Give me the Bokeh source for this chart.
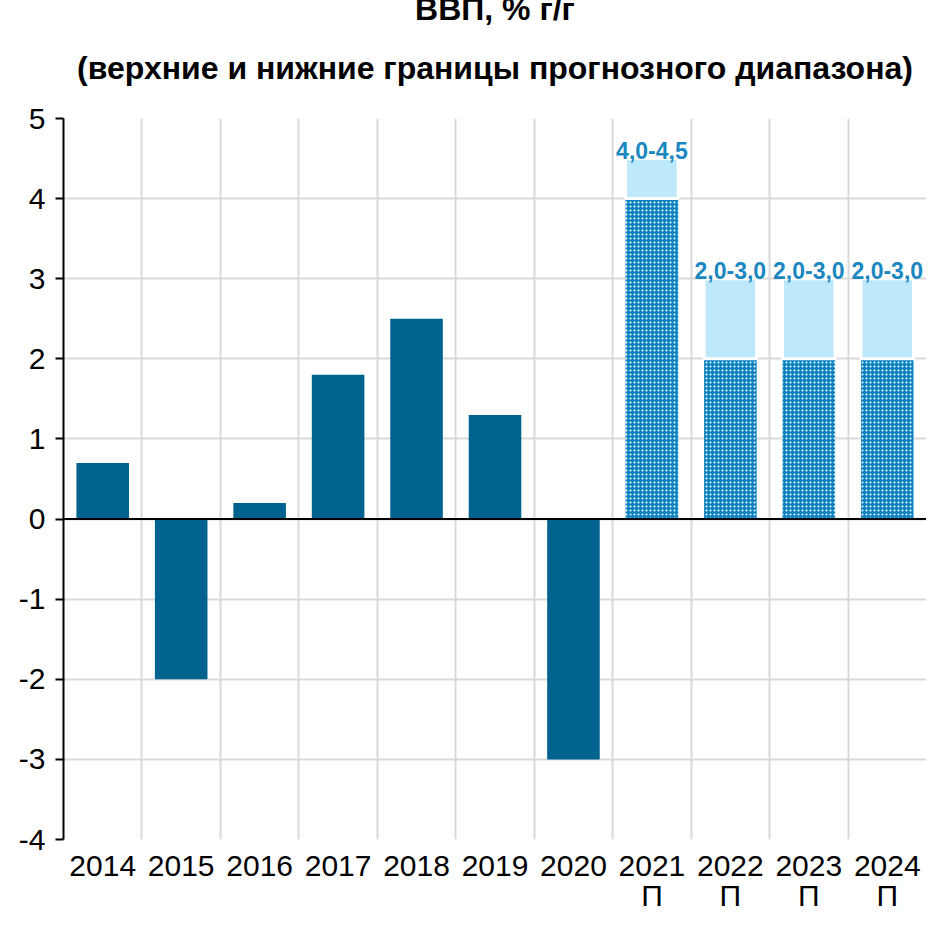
from bokeh.plotting import figure
from bokeh.models import FixedTicker, Span, ColumnDataSource, Title, LinearAxis
from bokeh.core.properties import value
from bokeh.embed import file_html
from bokeh.resources import INLINE

years = ["2014", "2015", "2016", "2017", "2018", "2019", "2020", "2021", "2022", "2023", "2024"]
actual = [0.7, -2.0, 0.2, 1.8, 2.5, 1.3, -3.0]
fc_low = [4.0, 2.0, 2.0, 2.0]
fc_high = [4.5, 3.0, 3.0, 3.0]
fc_labels = ["4,0-4,5", "2,0-3,0", "2,0-3,0", "2,0-3,0"]
fc_mark = "П"
y_ticks = [-4, -3, -2, -1, 0, 1, 2, 3, 4, 5]
title_lines = ["ВВП, % г/г", "(верхние и нижние границы прогнозного диапазона)"]

FONT = "Liberation Sans"
n_act = len(actual)
x_all = [i + 0.5 for i in range(len(years))]
x_act = x_all[:n_act]
x_fc = x_all[n_act:]

p = figure(width=926, height=914, output_backend="svg", toolbar_location=None,
           x_range=(0, len(years)), y_range=(-4, 5), title=None,
           min_border_left=63, min_border_right=0, min_border_bottom=0, min_border_top=0)
p.outline_line_color = None

p.add_layout(Title(text=title_lines[1], align="center", text_font=FONT, text_font_size="32px",
                   text_font_style="bold", text_color="black", standoff=65), "above")
p.add_layout(Title(text=title_lines[0], align="center", text_font=FONT, text_font_size="32px",
                   text_font_style="bold", text_color="black", standoff=-23), "above")

# grids
p.xgrid.ticker = FixedTicker(ticks=list(range(len(years) + 1)))
p.ygrid.ticker = FixedTicker(ticks=y_ticks)
p.xgrid.grid_line_color = "#d9d9d9"
p.ygrid.grid_line_color = "#d9d9d9"
p.xgrid.grid_line_width = 2
p.ygrid.grid_line_width = 2

# y axis
p.yaxis.ticker = FixedTicker(ticks=y_ticks)
p.yaxis.major_label_overrides = {v: str(v) for v in y_ticks}
p.yaxis.axis_line_color = "black"
p.yaxis.axis_line_width = 2
p.yaxis.major_tick_line_color = "black"
p.yaxis.major_tick_line_width = 2
p.yaxis.major_tick_out = 8
p.yaxis.major_tick_in = 0
p.yaxis.minor_tick_line_color = None
p.yaxis.major_label_text_font = FONT
p.yaxis.major_label_text_font_size = "30px"
p.yaxis.major_label_text_color = "black"
p.yaxis.major_label_standoff = 10

# x axis (years)
def style_x(ax, standoff):
    ax.axis_line_color = None
    ax.major_tick_line_color = None
    ax.minor_tick_line_color = None
    ax.major_tick_out = 0
    ax.major_tick_in = 0
    ax.minor_tick_out = 0
    ax.major_label_text_font = FONT
    ax.major_label_text_font_size = "30px"
    ax.major_label_text_color = "black"
    ax.major_label_standoff = standoff

p.xaxis.ticker = FixedTicker(ticks=x_all)
p.xaxis.major_label_overrides = {x: y for x, y in zip(x_all, years)}
style_x(p.xaxis[0], 16)

ax2 = LinearAxis(ticker=FixedTicker(ticks=x_fc),
                 major_label_overrides={x: fc_mark for x in x_fc})
style_x(ax2, 0)
p.add_layout(ax2, "below")

# actual bars
src_a = ColumnDataSource(dict(x=x_act, top=actual))
p.vbar(x="x", top="top", bottom=0, width=0.67, source=src_a,
       fill_color="#00628f", line_color=None)

# forecast lower (hatched)
src_f = ColumnDataSource(dict(x=x_fc, low=fc_low, high=fc_high, lab=fc_labels))
p.vbar(x="x", top="low", bottom=0, width=0.67, source=src_f,
       fill_color="#0a82c0", line_color=None,
       hatch_pattern=".", hatch_color="white", hatch_scale=4, hatch_weight=3)
# forecast upper range
p.vbar(x="x", top="high", bottom="low", width=0.67, source=src_f,
       fill_color="#bde9fb", line_color="white", line_width=3)

p.text(x="x", y="high", text="lab", source=src_f, text_align="center",
       text_baseline="alphabetic", y_offset=-8, text_font=value(FONT),
       text_font_size="23px", text_font_style="bold", text_color="#1a87c1")

p.add_layout(Span(location=0, dimension="width", line_color="black", line_width=2))

open("out.html", "w").write(file_html(p, INLINE))
